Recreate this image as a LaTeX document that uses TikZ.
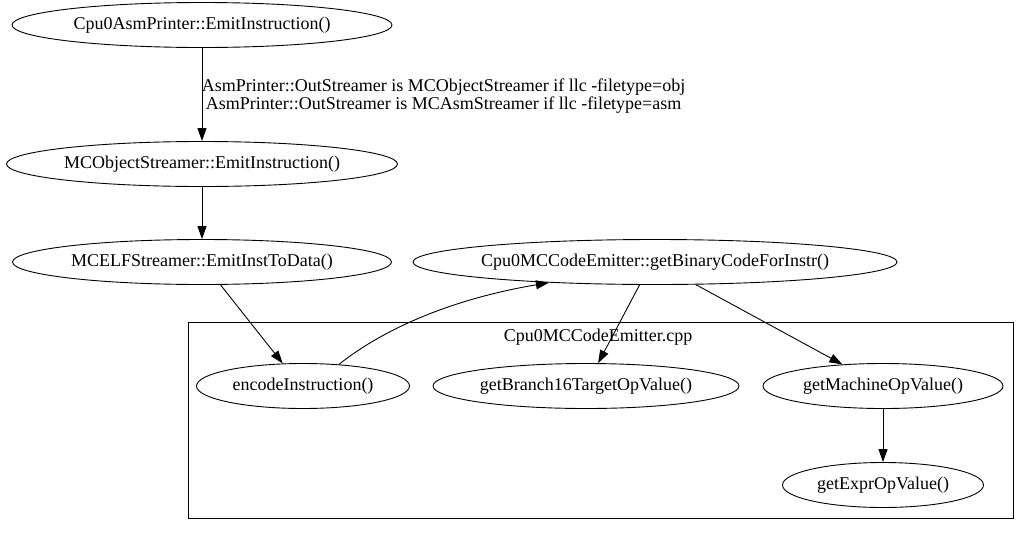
\documentclass[tikz,border=0pt]{standalone}
\usepackage{fontspec}
\setmainfont{Liberation Serif}
\usetikzlibrary{arrows.meta,shapes.geometric}
\begin{document}
\begin{tikzpicture}[x=1pt,y=-1pt,
  lbl/.style={font=\fontsize{18}{18}\selectfont},
  fn/.style={draw,ellipse,lbl,inner xsep=-100pt,inner ysep=-20pt,minimum height=45},
  link/.style={draw,line width=0.9pt,-{Triangle[length=13pt,width=9pt]}},
  every node/.style={line width=0.9pt}]
\useasboundingbox (0,0) rectangle (1028,536);
% source file cluster
\draw[line width=0.9pt] (188,322) rectangle (1013,518);
\node[lbl] (cpp) at (598,337) {Cpu0MCCodeEmitter.cpp};
% functions
\node[fn,minimum width=380] (asm) at (202,25) {Cpu0AsmPrinter::EmitInstruction()};
\node[fn,minimum width=391] (obj) at (202,164) {MCObjectStreamer::EmitInstruction()};
\node[fn,minimum width=379] (elf) at (202,262) {MCELFStreamer::EmitInstToData()};
\node[fn,minimum width=484] (bin) at (655,262) {Cpu0MCCodeEmitter::getBinaryCodeForInstr()};
\node[fn,minimum width=213] (enc) at (303,386) {encodeInstruction()};
\node[fn,minimum width=306] (br) at (586,386) {getBranch16TargetOpValue()};
\node[fn,minimum width=240] (mach) at (883,386) {getMachineOpValue()};
\node[fn,minimum width=201] (expr) at (883,485) {getExprOpValue()};
% calls
\draw[link] (asm) -- node[lbl,right=-4pt,yshift=-2pt,align=center] (note) {AsmPrinter::OutStreamer is MCObjectStreamer if llc -filetype=obj\\AsmPrinter::OutStreamer is MCAsmStreamer if llc -filetype=asm} (obj);
\draw[link] (obj) -- (elf);
\draw[link] (elf.-51) -- (enc.132);
\draw[link] (enc.31) .. controls (372,338) and (435,302) .. (bin.191);
\draw[link] (bin.-124) -- (br.62);
\draw[link] (bin.-29) -- (mach.152);
\draw[link] (mach) -- (expr);
\end{tikzpicture}
\end{document}
